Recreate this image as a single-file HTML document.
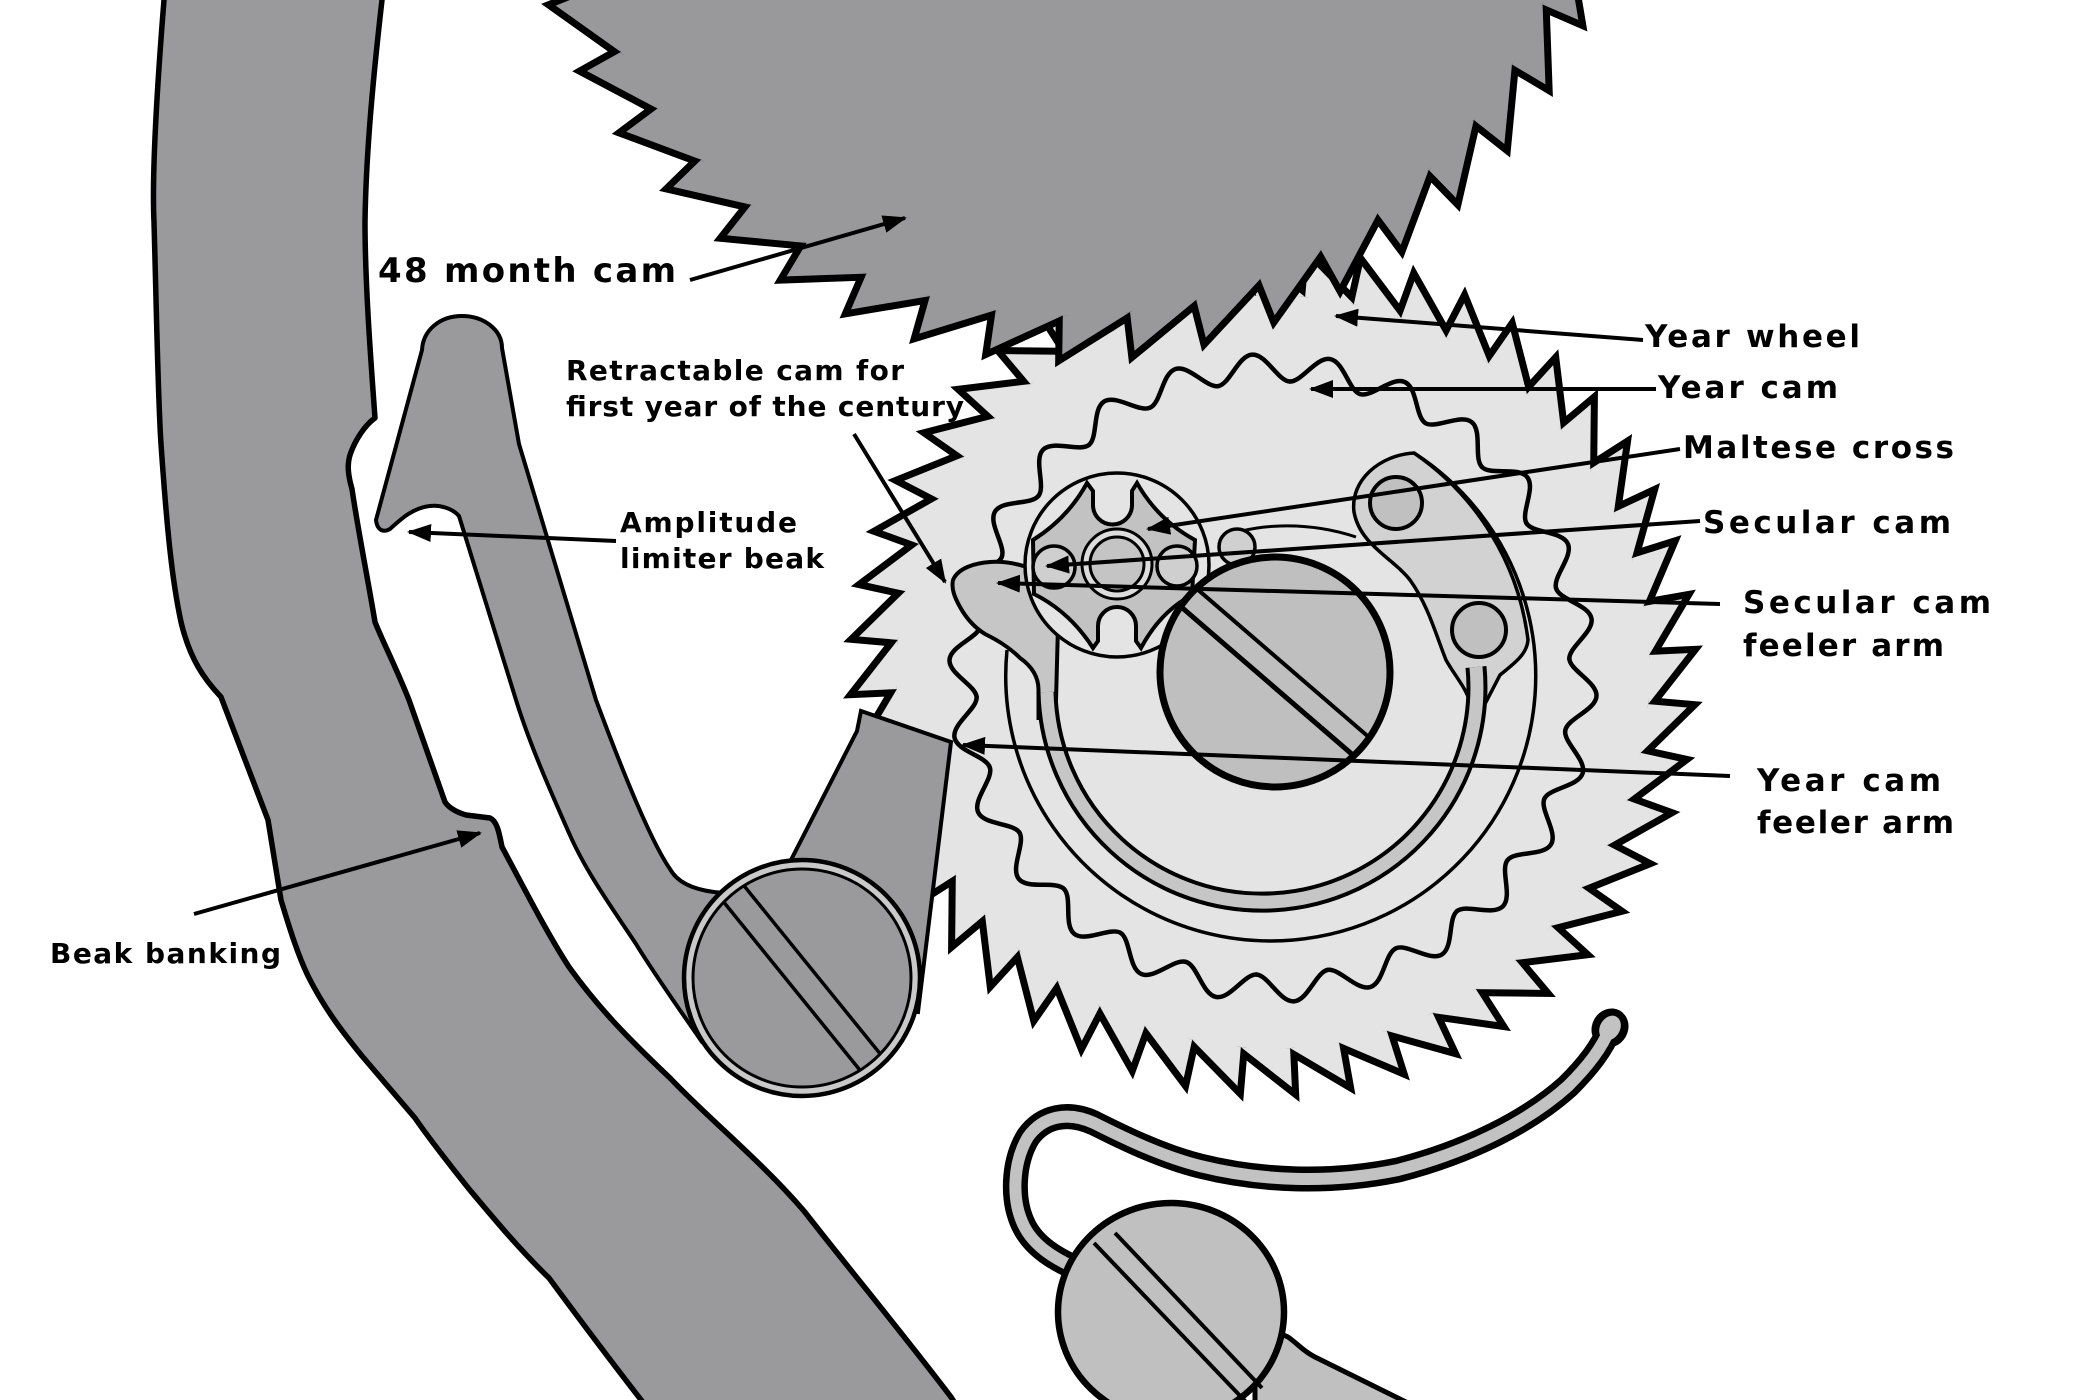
<!DOCTYPE html>
<html>
<head>
<meta charset="utf-8">
<style>
html,body{margin:0;padding:0;background:#fff;}
svg{display:block;}
</style>
</head>
<body>
<svg width="2100" height="1400" viewBox="0 0 2100 1400" xmlns="http://www.w3.org/2000/svg">
<defs>
  <marker id="ah" viewBox="0 0 24 18" refX="22" refY="9" markerWidth="24" markerHeight="18" markerUnits="userSpaceOnUse" orient="auto">
    <path d="M0,0 L24,9 L0,18 Z" fill="#000"/>
  </marker>
  <path id="bt" d="M514.5,0 L553.5,0 L510.1,-67.2 Z"/>
  <path id="yt" d="M373.3,49.1 L415.5,0 L376.5,0 Z"/>
  <path id="lobe" d="M-35.8,-294.8 C-24,-296.2 -14,-324 0,-324 C14,-324 24,-296.2 35.8,-294.8"/>
  <g id="bigGear">
    <circle r="514.5"/>
    <use href="#bt" transform="rotate(0.8)"/><use href="#bt" transform="rotate(8.3)"/><use href="#bt" transform="rotate(15.8)"/><use href="#bt" transform="rotate(23.3)"/>
    <use href="#bt" transform="rotate(30.8)"/><use href="#bt" transform="rotate(38.3)"/><use href="#bt" transform="rotate(45.8)"/><use href="#bt" transform="rotate(53.3)"/>
    <use href="#bt" transform="rotate(60.8)"/><use href="#bt" transform="rotate(68.3)"/><use href="#bt" transform="rotate(75.8)"/><use href="#bt" transform="rotate(83.3)"/>
    <use href="#bt" transform="rotate(90.8)"/><use href="#bt" transform="rotate(98.3)"/><use href="#bt" transform="rotate(105.8)"/><use href="#bt" transform="rotate(113.3)"/>
    <use href="#bt" transform="rotate(120.8)"/><use href="#bt" transform="rotate(128.3)"/><use href="#bt" transform="rotate(135.8)"/><use href="#bt" transform="rotate(143.3)"/>
    <use href="#bt" transform="rotate(150.8)"/><use href="#bt" transform="rotate(158.3)"/><use href="#bt" transform="rotate(165.8)"/><use href="#bt" transform="rotate(173.3)"/>
    <use href="#bt" transform="rotate(180.8)"/><use href="#bt" transform="rotate(188.3)"/><use href="#bt" transform="rotate(195.8)"/><use href="#bt" transform="rotate(203.3)"/>
    <use href="#bt" transform="rotate(210.8)"/><use href="#bt" transform="rotate(218.3)"/><use href="#bt" transform="rotate(225.8)"/><use href="#bt" transform="rotate(233.3)"/>
    <use href="#bt" transform="rotate(240.8)"/><use href="#bt" transform="rotate(248.3)"/><use href="#bt" transform="rotate(255.8)"/><use href="#bt" transform="rotate(263.3)"/>
    <use href="#bt" transform="rotate(270.8)"/><use href="#bt" transform="rotate(278.3)"/><use href="#bt" transform="rotate(285.8)"/><use href="#bt" transform="rotate(293.3)"/>
    <use href="#bt" transform="rotate(300.8)"/><use href="#bt" transform="rotate(308.3)"/><use href="#bt" transform="rotate(315.8)"/><use href="#bt" transform="rotate(323.3)"/>
    <use href="#bt" transform="rotate(330.8)"/><use href="#bt" transform="rotate(338.3)"/><use href="#bt" transform="rotate(345.8)"/><use href="#bt" transform="rotate(353.3)"/>
  </g>
  <g id="yWheel">
    <circle r="376.5"/>
    <use href="#yt" transform="rotate(117.4)"/><use href="#yt" transform="rotate(124.9)"/><use href="#yt" transform="rotate(132.4)"/><use href="#yt" transform="rotate(139.9)"/>
    <use href="#yt" transform="rotate(147.4)"/><use href="#yt" transform="rotate(154.9)"/><use href="#yt" transform="rotate(162.4)"/><use href="#yt" transform="rotate(169.9)"/>
    <use href="#yt" transform="rotate(177.4)"/><use href="#yt" transform="rotate(184.9)"/><use href="#yt" transform="rotate(192.4)"/><use href="#yt" transform="rotate(199.9)"/>
    <use href="#yt" transform="rotate(207.4)"/><use href="#yt" transform="rotate(214.9)"/><use href="#yt" transform="rotate(222.4)"/><use href="#yt" transform="rotate(229.9)"/>
    <use href="#yt" transform="rotate(237.4)"/><use href="#yt" transform="rotate(244.9)"/><use href="#yt" transform="rotate(252.4)"/><use href="#yt" transform="rotate(259.9)"/>
    <use href="#yt" transform="rotate(267.4)"/><use href="#yt" transform="rotate(274.9)"/><use href="#yt" transform="rotate(282.4)"/><use href="#yt" transform="rotate(289.9)"/>
    <use href="#yt" transform="rotate(297.4)"/><use href="#yt" transform="rotate(304.9)"/><use href="#yt" transform="rotate(312.4)"/><use href="#yt" transform="rotate(319.9)"/>
    <use href="#yt" transform="rotate(327.4)"/><use href="#yt" transform="rotate(334.9)"/><use href="#yt" transform="rotate(342.4)"/><use href="#yt" transform="rotate(349.9)"/>
    <use href="#yt" transform="rotate(357.4)"/><use href="#yt" transform="rotate(4.9)"/><use href="#yt" transform="rotate(12.4)"/><use href="#yt" transform="rotate(19.9)"/>
    <use href="#yt" transform="rotate(27.4)"/><use href="#yt" transform="rotate(34.9)"/><use href="#yt" transform="rotate(42.4)"/><use href="#yt" transform="rotate(49.9)"/>
    <use href="#yt" transform="rotate(57.4)"/><use href="#yt" transform="rotate(64.9)"/><use href="#yt" transform="rotate(72.4)"/><use href="#yt" transform="rotate(79.9)"/>
    <use href="#yt" transform="rotate(87.4)"/><use href="#yt" transform="rotate(94.9)"/><use href="#yt" transform="rotate(102.4)"/><use href="#yt" transform="rotate(109.9)"/>
  </g>
</defs>

<rect x="0" y="0" width="2100" height="1400" fill="#fff"/>

<!-- Left curved band -->
<path d="M164,-5 L164,0 C156,100 152,180 154,222 C157,330 158,400 161,444 C167,530 172,580 181,622 C190,660 205,680 221,697 L268,820 C273,850 277,875 281,900 C290,930 298,955 308,976 C325,1010 345,1035 362,1056 L415,1118 C430,1140 450,1165 469,1189 C495,1220 520,1250 549,1278 C580,1320 610,1360 645,1405 L956,1405 L951,1397 C900,1330 850,1270 804,1211 C760,1160 710,1120 670,1078 C630,1040 600,1010 569,967 C545,930 520,880 502,847 C499,832 497,821 490,818 L466,815 C456,812 449,808 445,802 L409,700 C395,665 382,640 375,622 C368,580 358,530 352,489 C348,475 347,465 350,455 C355,440 365,425 375,418 C370,350 365,280 365,222 C366,150 374,70 382,0 L382,-5 Z" fill="#9a999c" stroke="#000" stroke-width="5.5" stroke-linejoin="round"/>

<!-- Year wheel -->
<g transform="translate(1273,672)">
  <use href="#yWheel" fill="#e4e4e4" stroke="#000" stroke-width="14" stroke-linejoin="miter" stroke-miterlimit="3"/>
  <use href="#yWheel" fill="#e4e4e4" stroke="none"/>
</g>

<!-- Year cam wave -->
<g transform="translate(1273,678)" fill="none" stroke="#000" stroke-width="4.5" stroke-linecap="round">
  <use href="#lobe" transform="rotate(-3.7)"/><use href="#lobe" transform="rotate(10.15)"/><use href="#lobe" transform="rotate(24)"/><use href="#lobe" transform="rotate(37.8)"/>
  <use href="#lobe" transform="rotate(51.7)"/><use href="#lobe" transform="rotate(65.5)"/><use href="#lobe" transform="rotate(79.4)"/><use href="#lobe" transform="rotate(93.2)"/>
  <use href="#lobe" transform="rotate(107.1)"/><use href="#lobe" transform="rotate(120.9)"/><use href="#lobe" transform="rotate(134.8)"/><use href="#lobe" transform="rotate(148.6)"/>
  <use href="#lobe" transform="rotate(162.5)"/><use href="#lobe" transform="rotate(176.3)"/><use href="#lobe" transform="rotate(190.1)"/><use href="#lobe" transform="rotate(204)"/>
  <use href="#lobe" transform="rotate(217.8)"/><use href="#lobe" transform="rotate(231.7)"/><use href="#lobe" transform="rotate(245.5)"/><use href="#lobe" transform="rotate(259.4)"/>
  <use href="#lobe" transform="rotate(273.2)"/><use href="#lobe" transform="rotate(287.1)"/><use href="#lobe" transform="rotate(300.9)"/><use href="#lobe" transform="rotate(314.8)"/>
  <use href="#lobe" transform="rotate(328.6)"/><use href="#lobe" transform="rotate(342.5)"/>
</g>

<!-- Outer thin circle arc -->
<path d="M1007,650 A265,265 0 1 0 1414,453" fill="none" stroke="#000" stroke-width="3.5"/>

<!-- Plate with holes -->
<path d="M1414,453 A265,265 0 0 1 1528,640 C1527,655 1512,665 1500,675 L1486,702 L1470,702 C1466,688 1455,676 1446,660 C1436,635 1428,605 1410,580 C1393,558 1360,545 1354,512 C1350,480 1380,455 1414,453 Z" fill="#d2d2d2" stroke="#000" stroke-width="3.5"/>
<circle cx="1396" cy="503" r="26" fill="#c0c0c0" stroke="#000" stroke-width="4"/>
<circle cx="1479" cy="630" r="27" fill="#c0c0c0" stroke="#000" stroke-width="4"/>

<!-- Retractable cam / secular feeler blob (neck merges into ring) -->
<path d="M953,580 C958,568 975,563 990,562 C1005,561 1020,564 1035,570 L1060,598 L1058,625 L1055.5,720 L1038.5,720 L1038.5,690 C1038.5,675 1030,665 1020,658 C1008,646 995,639 985,634 C972,626 965,616 960,607 C955,598 951,589 953,580 Z" fill="#c6c6c6" stroke="none"/>
<path d="M1055.5,720 L1058,625 L1060,598 L1035,570 C1020,564 1005,561 990,562 C975,563 958,568 953,580 C951,589 955,598 960,607 C965,616 972,626 985,634 C995,639 1008,646 1020,658 C1030,665 1038.5,675 1038.5,690 L1038.5,720" fill="none" stroke="#000" stroke-width="4" stroke-linejoin="round"/>

<!-- C ring band -->
<path d="M1047,692 A215,215 0 1 0 1476,667" fill="none" stroke="#000" stroke-width="21"/>
<path d="M1047,692 A215,215 0 1 0 1476,667" fill="none" stroke="#c6c6c6" stroke-width="13"/>

<!-- Thin connector line and small circle -->
<path d="M1220,539 C1250,524 1305,520 1356,537" fill="none" stroke="#000" stroke-width="3"/>
<circle cx="1237" cy="547" r="18" fill="#d0d0d0" stroke="#000" stroke-width="3.5"/>

<!-- Maltese cross group -->
<circle cx="1117" cy="565" r="92" fill="#e4e4e4" stroke="#000" stroke-width="3.5"/>
<path d="M1087,483 L1093,491 L1093,505 A19.5,19.5 0 0 0 1132,505 L1132,491 L1137,483 Q1158,520 1195,540 L1192,595 Q1160,612 1141,648 L1136,641 L1136,626 A19,19 0 0 0 1098,626 L1098,641 L1093,648 Q1070,612 1034,594 L1033,540 Q1068,518 1087,483 Z" fill="#c2c2c2" stroke="#000" stroke-width="4" stroke-linejoin="miter"/>
<circle cx="1054" cy="567" r="21" fill="#cfcfcf" stroke="#000" stroke-width="3.5"/>
<circle cx="1177" cy="566" r="20" fill="#cfcfcf" stroke="#000" stroke-width="3.5"/>
<circle cx="1117" cy="564" r="35" fill="#dcdcdc" stroke="#000" stroke-width="3"/>
<circle cx="1117" cy="564" r="27" fill="#c4c4c4" stroke="#000" stroke-width="3"/>

<!-- Central screw -->
<circle cx="1275" cy="672" r="115" fill="#bfbfbf" stroke="#000" stroke-width="7"/>
<line x1="1198.5" y1="590.2" x2="1367.1" y2="735.6" stroke="#000" stroke-width="4"/>
<line x1="1182.9" y1="608.4" x2="1351.5" y2="753.8" stroke="#000" stroke-width="5"/>

<!-- 48 month cam big gear -->
<g transform="translate(1070,-199)">
  <use href="#bigGear" fill="#99989b" stroke="#000" stroke-width="14" stroke-linejoin="miter" stroke-miterlimit="3"/>
  <use href="#bigGear" fill="#99989b" stroke="none"/>
</g>

<!-- Lever (amplitude limiter) -->
<path d="M462,316 C484,316 502,330 502,348 L519,444 L596,700 C622,770 650,840 670,869 C676,880 690,891 725,893 L805,975 L702,1042 C680,1010 655,975 636,944 C610,905 585,870 569,833 C550,790 530,745 516,700 L459,516 C452,508 440,505 430,506 C412,508 400,520 390,529 C383,533 377,530 376,520 L422,350 C423,330 440,316 462,316 Z" fill="#9a999c" stroke="#000" stroke-width="4" stroke-linejoin="round"/>

<!-- Year cam feeler arm -->
<path d="M861,711 L951,742 L918,1012 L830,1000 L790,862 L857,731 Z" fill="#9a999c" stroke="#000" stroke-width="4" stroke-linejoin="miter"/>

<!-- Lever screw -->
<circle cx="802" cy="978" r="118" fill="#c9c9c9" stroke="#000" stroke-width="4.5"/>
<circle cx="802" cy="978" r="109" fill="#9a999c" stroke="#000" stroke-width="3"/>
<line x1="744.6" y1="886.5" x2="879.6" y2="1053.1" stroke="#000" stroke-width="3.5"/>
<line x1="724.4" y1="902.9" x2="859.4" y2="1069.5" stroke="#000" stroke-width="3.5"/>

<!-- Spring -->
<path d="M1610,1028 C1602,1048 1588,1066 1568,1086 C1528,1122 1468,1152 1398,1170 C1330,1184 1260,1181 1200,1166 C1160,1156 1120,1136 1094,1123 C1068,1111 1043,1116 1028,1137 C1013,1162 1011,1200 1024,1226 C1034,1246 1055,1260 1085,1272" fill="none" stroke="#000" stroke-width="25" stroke-linecap="round"/>
<ellipse cx="1610" cy="1028" rx="18" ry="20" transform="rotate(30 1610 1028)" fill="#000"/>
<path d="M1610,1028 C1602,1048 1588,1066 1568,1086 C1528,1122 1468,1152 1398,1170 C1330,1184 1260,1181 1200,1166 C1160,1156 1120,1136 1094,1123 C1068,1111 1043,1116 1028,1137 C1013,1162 1011,1200 1024,1226 C1034,1246 1055,1260 1085,1272" fill="none" stroke="#c2c2c2" stroke-width="12" stroke-linecap="round"/>
<ellipse cx="1610" cy="1028" rx="10" ry="13" transform="rotate(30 1610 1028)" fill="#c2c2c2"/>

<!-- Bottom screw arm -->
<path d="M1255,1322 L1288,1337 C1298,1344 1303,1351 1315,1357 L1412,1405 L1255,1405 Z" fill="#c0c0c0" stroke="#000" stroke-width="5"/>
<!-- Bottom screw -->
<ellipse cx="1171" cy="1312" rx="113" ry="109" fill="#c0c0c0" stroke="#000" stroke-width="6.5"/>
<line x1="1115" y1="1233" x2="1262" y2="1388" stroke="#000" stroke-width="4"/>
<line x1="1094" y1="1243" x2="1246" y2="1402" stroke="#000" stroke-width="4"/>

<!-- Connector arrows -->
<g stroke="#000" stroke-width="4" fill="none">
  <line x1="690" y1="280" x2="905" y2="218" marker-end="url(#ah)"/>
  <line x1="854" y1="434" x2="945" y2="582" marker-end="url(#ah)"/>
  <line x1="616" y1="541" x2="409" y2="532" marker-end="url(#ah)"/>
  <line x1="194" y1="914" x2="480" y2="833" marker-end="url(#ah)"/>
  <line x1="1643" y1="340" x2="1336" y2="316" marker-end="url(#ah)"/>
  <line x1="1656" y1="389" x2="1311" y2="389" marker-end="url(#ah)"/>
  <line x1="1680" y1="449" x2="1148" y2="529" marker-end="url(#ah)"/>
  <line x1="1700" y1="521" x2="1047" y2="566" marker-end="url(#ah)"/>
  <line x1="1720" y1="604" x2="998" y2="583" marker-end="url(#ah)"/>
  <line x1="1730" y1="776" x2="963" y2="745" marker-end="url(#ah)"/>
</g>

<!-- Labels -->
<g font-family="'DejaVu Sans','Liberation Sans',sans-serif" font-weight="bold" fill="#000">
  <text x="378" y="282" font-size="34" textLength="298" lengthAdjust="spacing">48 month cam</text>
  <text x="566" y="380" font-size="28" textLength="338" lengthAdjust="spacing">Retractable cam for</text>
  <text x="566" y="416" font-size="28" textLength="398" lengthAdjust="spacing">first year of the century</text>
  <text x="620" y="532" font-size="28" textLength="177" lengthAdjust="spacing">Amplitude</text>
  <text x="620" y="568" font-size="28" textLength="204" lengthAdjust="spacing">limiter beak</text>
  <text x="50" y="963" font-size="28" textLength="231" lengthAdjust="spacing">Beak banking</text>
  <text x="1645" y="347" font-size="31" textLength="215" lengthAdjust="spacing">Year wheel</text>
  <text x="1658" y="398" font-size="31" textLength="180" lengthAdjust="spacing">Year cam</text>
  <text x="1683" y="458" font-size="31" textLength="271" lengthAdjust="spacing">Maltese cross</text>
  <text x="1703" y="533" font-size="31" textLength="248" lengthAdjust="spacing">Secular cam</text>
  <text x="1743" y="613" font-size="31" textLength="248" lengthAdjust="spacing">Secular cam</text>
  <text x="1743" y="656" font-size="31" textLength="201" lengthAdjust="spacing">feeler arm</text>
  <text x="1757" y="791" font-size="31" textLength="184" lengthAdjust="spacing">Year cam</text>
  <text x="1757" y="833" font-size="31" textLength="197" lengthAdjust="spacing">feeler arm</text>
</g>
</svg>
</body>
</html>
